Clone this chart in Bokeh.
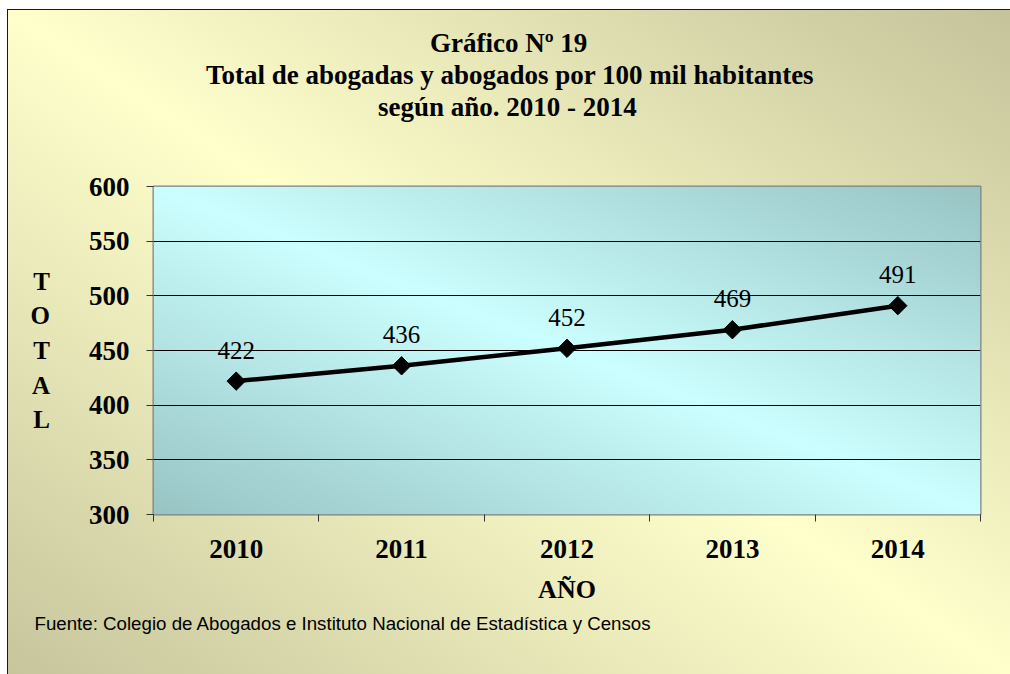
import numpy as np
from bokeh.plotting import figure
from bokeh.models import Range1d, FixedTicker, Title
from bokeh.core.properties import value
from bokeh.embed import file_html
from bokeh.resources import INLINE

# ---------------- data ----------------
years = ["2010", "2011", "2012", "2013", "2014"]
totals = [422, 436, 452, 469, 491]
y_ticks = [300, 350, 400, 450, 500, 550, 600]
title_lines = ["Gráfico Nº 19",
               "Total de abogadas y abogados por 100 mil habitantes",
               "según año. 2010 - 2014"]
y_title = ["T", "O", "T", "A", "L"]
x_title = "AÑO"
source_text = "Fuente: Colegio de Abogados e Instituto Nacional de Estadística y Censos"

# ---------------- figure ----------------
SERIF = "Liberation Serif"
SANS = "Liberation Sans"
BIG = "27px"

x_lo, x_hi = 0, len(years)
y_lo, y_hi = y_ticks[0], y_ticks[-1]

p = figure(width=1010, height=674, output_backend="svg", toolbar_location=None,
           x_range=Range1d(x_lo, x_hi), y_range=Range1d(y_lo, y_hi),
           min_border_left=153, min_border_right=30, min_border_top=186,
           min_border_bottom=160)
p.background_fill_alpha = 0
p.border_fill_alpha = 0
p.styles = {
    "background": ("linear-gradient(to top right, #C6C59C 0%, #FFFFCC 50%, #C4C39A 100%) "
                   "8px 10px / calc(100% - 8px) calc(100% - 10px) no-repeat, "
                   "linear-gradient(#1a1a1a, #1a1a1a) 7px 9px / calc(100% - 7px) calc(100% - 9px) no-repeat, "
                   "#ffffff"),
}
p.outline_line_color = "#808080"
p.outline_line_width = 2

# plot-area gradient (decorative image spanning the ranges)
H, W = 164, 414
u = np.linspace(0, 1, W)[None, :]
v = np.linspace(0, 1, H)[:, None]
f = np.abs(u + v - 1)
light = np.array([204, 255, 255])
dark = np.array([152, 196, 196])
img = np.empty((H, W), dtype=np.uint32)
view = img.view(dtype=np.uint8).reshape((H, W, 4))
for k in range(3):
    view[:, :, k] = (light[k] + (dark[k] - light[k]) * f).astype(np.uint8)
view[:, :, 3] = 255
p.image_rgba(image=[img], x=x_lo, y=y_lo, dw=x_hi - x_lo, dh=y_hi - y_lo, level="image")

# ---------------- axes ----------------
xs = [i + 0.5 for i in range(len(years))]
xa = p.xaxis[0]
xa.ticker = FixedTicker(ticks=xs, minor_ticks=list(range(len(years) + 1)))
xa.major_label_overrides = {x: yr for x, yr in zip(xs, years)}
xa.major_tick_out = 0
xa.major_tick_in = 0
xa.minor_tick_out = 7
xa.minor_tick_in = 0
xa.minor_tick_line_color = "#333333"
xa.axis_line_color = None
xa.major_label_standoff = 18
xa.major_label_text_font = SERIF
xa.major_label_text_font_style = "bold"
xa.major_label_text_font_size = BIG
xa.major_label_text_color = "black"
xa.axis_label = x_title
xa.axis_label_standoff = 14
xa.axis_label_text_font = SERIF
xa.axis_label_text_font_style = "bold"
xa.axis_label_text_font_size = "26px"
xa.axis_label_text_color = "black"

ya = p.yaxis[0]
ya.ticker = FixedTicker(ticks=y_ticks)
ya.major_tick_out = 7
ya.major_tick_in = 0
ya.major_tick_line_color = "#333333"
ya.minor_tick_line_color = None
ya.axis_line_color = None
ya.major_label_standoff = 17
ya.major_label_text_font = SERIF
ya.major_label_text_font_style = "bold"
ya.major_label_text_font_size = BIG
ya.major_label_text_color = "black"
ya.axis_label = "\n".join(y_title)
ya.axis_label_orientation = "horizontal"
ya.axis_label_standoff = 36
ya.axis_label_text_font = SERIF
ya.axis_label_text_font_style = "bold"
ya.axis_label_text_font_size = "25px"
ya.axis_label_text_line_height = 1.28
ya.axis_label_text_color = "black"

p.xgrid.grid_line_color = None
p.ygrid.grid_line_color = "black"
p.ygrid.grid_line_width = 1

# ---------------- series ----------------
p.line(xs, totals, line_color="black", line_width=4.5)
p.scatter(xs, totals, marker="square", size=13, angle=np.pi / 4,
          fill_color="black", line_color="black")
p.text(xs, totals, text=[str(t) for t in totals], y_offset=-31,
       text_font=value(SERIF), text_font_size="25px", text_align="center",
       text_baseline="middle", text_color="black")

# ---------------- titles ----------------
p.title = None
# spacer between the plot frame and the title block
p.add_layout(Title(text=" ", text_font_size="1px", standoff=62), "above")
# title lines, stacked outward from the frame; left offsets centre each line
title_offsets = [224.5, 52.5, 276.5]
for line, off in zip(reversed(title_lines), title_offsets):
    p.add_layout(Title(text=line, align="left", offset=off, standoff=0,
                       text_font=SERIF, text_font_size=BIG, text_font_style="bold",
                       text_color="black"), "above")
p.add_layout(Title(text=source_text, align="left", offset=-119, standoff=8,
                   text_font=SANS, text_font_size="18.7px", text_font_style="normal",
                   text_color="black"), "below")

open("out.html", "w").write(file_html(p, INLINE))
